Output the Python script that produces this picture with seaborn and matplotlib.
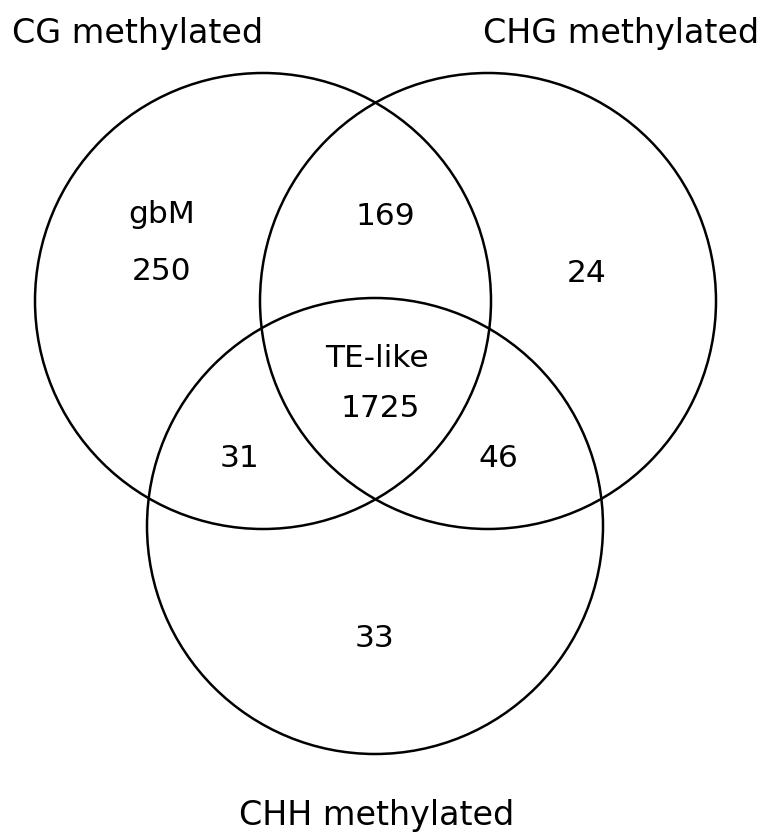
import matplotlib
matplotlib.use("Agg")
import matplotlib.pyplot as plt
from matplotlib.patches import Circle
import seaborn as sns

# Venn data: three sets and the counts in each region
set_names = ["CG methylated", "CHG methylated", "CHH methylated"]
region_keys = ["CG only", "CG&CHG", "CHG only", "CG&CHG&CHH", "CG&CHH", "CHG&CHH", "CHH only"]
region_counts = [250, 169, 24, 1725, 31, 46, 33]
region_tags = {"CG only": "gbM", "CG&CHG&CHH": "TE-like"}

# layout (pixel coordinates, y down)
circle_centers = [(263, 301), (488, 301), (375, 526)]
circle_radius = 228
set_label_pos = [(138, 43), (621, 43), (377, 825)]
count_pos = [(162, 280), (385, 225), (587, 282), (380, 417), (240, 467), (498, 467), (375, 647)]
tag_pos = {"CG only": (162, 223), "CG&CHG&CHH": (377, 367)}

sns.set_theme(style="white")
plt.rcParams['font.family'] = ['DejaVu Sans']

fig = plt.figure(figsize=(7.65, 8.32), dpi=100)
ax = fig.add_axes([0, 0, 1, 1])
ax.set_xlim(0, 765)
ax.set_ylim(832, 0)
ax.set_axis_off()

for c in circle_centers:
    ax.add_patch(Circle(c, circle_radius, fill=False, edgecolor="black", linewidth=1.8))

for name, (x, y) in zip(set_names, set_label_pos):
    ax.text(x, y, name, ha="center", va="baseline", fontsize=24, color="black")

for key, n, (x, y) in zip(region_keys, region_counts, count_pos):
    ax.text(x, y, str(n), ha="center", va="baseline", fontsize=22.5, color="black")
    if key in region_tags:
        tx, ty = tag_pos[key]
        ax.text(tx, ty, region_tags[key], ha="center", va="baseline", fontsize=22.5, color="black")

fig.savefig("out.png", dpi=100)
